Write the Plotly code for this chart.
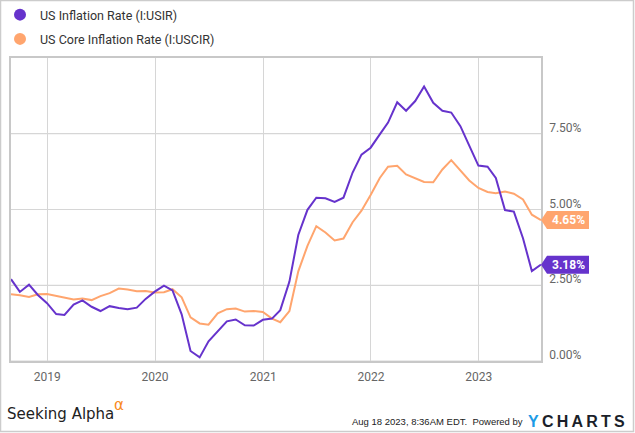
import pandas as pd
import plotly.graph_objects as go

# ---------------- data ----------------
start_month = "2018-08-31"
headline = [
    2.70, 2.28, 2.52, 2.18, 1.91,
    1.55, 1.52, 1.86, 2.00, 1.79, 1.65, 1.81, 1.75, 1.71, 1.76, 2.05, 2.29,
    2.49, 2.33, 1.54, 0.33, 0.12, 0.65, 0.99, 1.31, 1.37, 1.18, 1.17, 1.36,
    1.40, 1.68, 2.62, 4.16, 4.99, 5.39, 5.37, 5.25, 5.39, 6.22, 6.81, 7.04,
    7.48, 7.87, 8.54, 8.26, 8.58, 9.06, 8.52, 8.26, 8.20, 7.75, 7.11, 6.45,
    6.41, 6.04, 4.98, 4.93, 4.05, 2.97, 3.18,
]
core = [
    2.20, 2.17, 2.11, 2.20, 2.21,
    2.15, 2.11, 2.03, 2.06, 2.01, 2.14, 2.24, 2.39, 2.36, 2.30, 2.31, 2.26,
    2.27, 2.37, 2.10, 1.44, 1.24, 1.20, 1.57, 1.71, 1.73, 1.63, 1.65, 1.62,
    1.40, 1.28, 1.65, 2.96, 3.80, 4.45, 4.24, 3.98, 4.04, 4.58, 4.96, 5.48,
    6.04, 6.41, 6.44, 6.16, 6.02, 5.91, 5.90, 6.32, 6.63, 6.30, 5.96, 5.71,
    5.58, 5.54, 5.59, 5.52, 5.33, 4.83, 4.65,
]
series_names = ["US Inflation Rate (I:USIR)", "US Core Inflation Rate (I:USCIR)"]
year_ticks = ["2019-01-01", "2020-01-01", "2021-01-01", "2022-01-01", "2023-01-01"]
year_labels = ["2019", "2020", "2021", "2022", "2023"]
y_ticks = [0, 2.5, 5, 7.5]
y_labels = ["0.00%", "2.50%", "5.00%", "7.50%"]

dates = pd.date_range(start=start_month, periods=len(headline), freq=pd.offsets.MonthEnd())

# ---------------- style ----------------
PURPLE = "#6633cc"
ORANGE = "#ffa56e"
GRID = "#d6d6d6"
W, H = 635, 433
ML, MR, MT, MB = 11, 94, 58, 72
PW, PH = W - ML - MR, H - MT - MB


def pxx(p):
    return (p - ML) / PW


def pxy(p):
    return (H - MB - p) / PH


fig = go.Figure()

# horizontal grid lines at the y tick values (reinforce axis grid)
for t in y_ticks:
    fig.add_shape(type="line", xref="paper", yref="y", x0=0, x1=1, y0=t, y1=t,
                  line=dict(color=GRID, width=1), layer="below")

for vals, name, col in [(core, series_names[1], ORANGE), (headline, series_names[0], PURPLE)]:
    fig.add_trace(go.Scatter(x=dates, y=vals, mode="lines", line=dict(color=col, width=2),
                             showlegend=False, hoverinfo="skip"))

for vals, name, col, grp in [(headline, series_names[0], PURPLE, "a"), (core, series_names[1], ORANGE, "b")]:
    fig.add_trace(go.Scatter(x=[None], y=[None], mode="markers", name=name, legendgroup=grp,
                             marker=dict(color=col, size=8, symbol="circle")))

# end-value tags
for vals, col in [(core, ORANGE), (headline, PURPLE)]:
    fig.add_shape(type="path", xref="paper", yref="y", xsizemode="pixel", ysizemode="pixel",
                  xanchor=1, yanchor=vals[-1],
                  path="M0,0 L6,-9 L48,-9 L48,9 L6,9 Z",
                  fillcolor=col, line=dict(width=0), layer="above")
    fig.add_annotation(xref="paper", yref="y", x=1, y=vals[-1], xshift=27,
                       text="<b>%.2f%%</b>" % vals[-1], showarrow=False,
                       font=dict(family="Roboto", size=12, color="white"),
                       xanchor="center", yanchor="middle")

# footer
fig.add_annotation(xref="paper", yref="paper", x=pxx(5), y=pxy(414), xanchor="left", yanchor="middle",
                   text="Seeking Alpha", showarrow=False,
                   font=dict(family="DejaVu Sans", size=15, color="#222222"))
fig.add_annotation(xref="paper", yref="paper", x=pxx(112), y=pxy(405), xanchor="left", yanchor="middle",
                   text="α", showarrow=False,
                   font=dict(family="DejaVu Sans", size=15, color="#f98a1d"))
fig.add_annotation(xref="paper", yref="paper", x=pxx(525), y=pxy(421), xanchor="right", yanchor="middle",
                   text="Aug 18 2023, 8:36AM EDT.&nbsp;&nbsp;Powered by", showarrow=False,
                   font=dict(family="Liberation Sans Narrow, Liberation Sans", size=9.5, color="#222222"))
fig.add_annotation(xref="paper", yref="paper", x=pxx(526), y=pxy(421), xanchor="left", yanchor="middle",
                   text="<b><span style='color:#1c9be6'>Y</span>\u2009C\u2009H\u2009A\u2009R\u2009T\u2009S</b>",
                   showarrow=False,
                   font=dict(family="Liberation Sans", size=16, color="#1b1f2a"))

# outer border
fig.add_shape(type="rect", xref="paper", yref="paper",
              x0=pxx(0.5), x1=pxx(W - 1.5), y0=pxy(H - 1.5), y1=pxy(0.5),
              line=dict(color="#cccccc", width=1.5), fillcolor="rgba(0,0,0,0)", layer="below")

fig.update_layout(
    width=W, height=H,
    margin=dict(l=ML, r=MR, t=MT, b=MB, autoexpand=False),
    paper_bgcolor="white", plot_bgcolor="white",
    font=dict(family="Roboto", color="#333333"),
    legend=dict(xref="container", yref="container", x=0, y=1,
                xanchor="left", yanchor="top", bgcolor="rgba(0,0,0,0)",
                font=dict(family="Roboto", size=12.5, color="#333333"),
                traceorder="grouped", tracegroupgap=5, itemsizing="constant"),
    xaxis=dict(range=[dates[0], dates[-1]], tickvals=year_ticks, ticktext=year_labels,
               showgrid=True, gridcolor=GRID, gridwidth=1,
               showline=True, linecolor="#c8c8c8", linewidth=1.5, mirror=True,
               ticks="", ticklabelstandoff=4,
               tickfont=dict(family="Roboto", size=12, color="#666666"),
               zeroline=False, fixedrange=True),
    yaxis=dict(range=[0, 10], side="right", tickvals=y_ticks, ticktext=y_labels,
               showgrid=True, gridcolor=GRID, gridwidth=1,
               showline=True, linecolor="#c8c8c8", linewidth=1.5, mirror=True,
               ticks="", ticklabelstandoff=4, ticklabelshift=-6,
               tickfont=dict(family="Roboto", size=12, color="#666666"),
               zeroline=False, fixedrange=True),
    hovermode=False,
)

fig.write_html("out.html", config={"displayModeBar": False},
               post_script="document.body.style.margin='0';")
